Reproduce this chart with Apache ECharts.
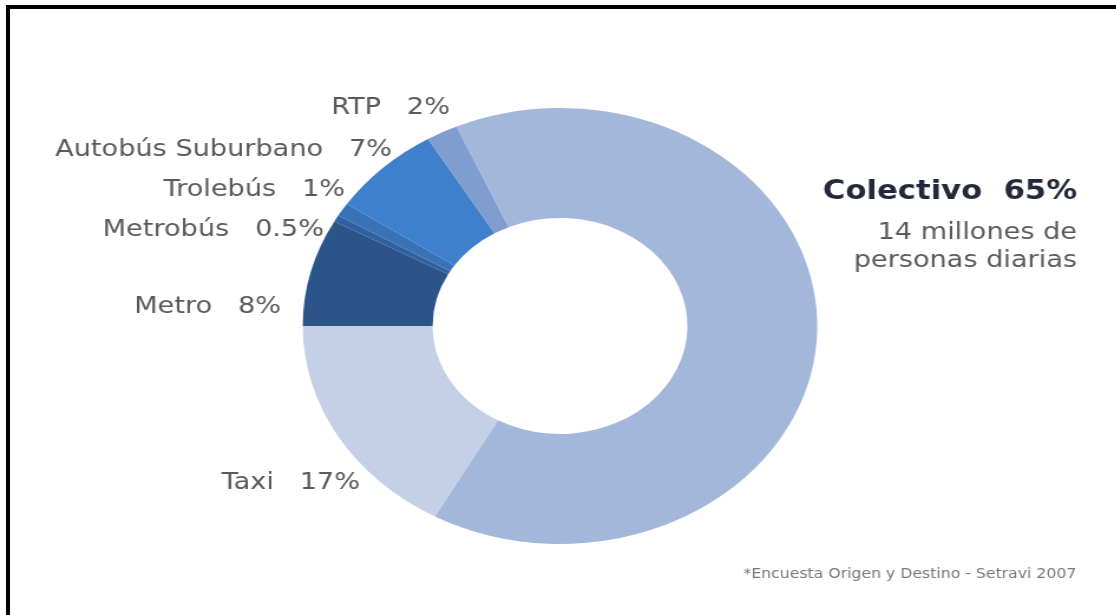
<!DOCTYPE html>
<html><head><meta charset="utf-8">
<script src="https://cdn.jsdelivr.net/npm/echarts@6/dist/echarts.min.js"></script>
<style>
html,body{margin:0;padding:0;background:#fff;overflow:hidden;}
#wrap{position:relative;width:1116px;height:615px;overflow:hidden;background:#fff;}
#chart{position:absolute;left:0;top:0;width:946px;height:615px;transform:scaleX(1.18);transform-origin:0 0;}
#frame{position:absolute;left:6px;top:5px;width:1130px;height:630px;border-top:4px solid #000;border-left:4px solid #000;}
</style></head><body>
<div id="wrap"><div id="chart"></div><div id="frame"></div></div>
<script>
// ---- data ----
const categories = ['Metro', 'Metrobús', 'Trolebús', 'Autobús Suburbano', 'RTP', 'Colectivo', 'Taxi'];
const shares = [8, 0.5, 1, 7, 2, 65, 17];
const colectivoNote = ['14 millones de', 'personas diarias'];
const sourceNote = '*Encuesta Origen y Destino - Setravi 2007';

// ---- style / layout ----
const sliceColors = ['#2b5488', '#30619e', '#3a72b8', '#3e80cc', '#7f9dcf', '#a3b7da', '#c3d0e6'];
const SX = 1.18; // horizontal stretch of the original picture
// right-edge x / centre y of each label, in page pixels
const labelAnchors = [[281, 307], [324, 230], [345, 190], [392, 150], [450, 108], [1077, 165], [360, 483]];

const chart = echarts.init(document.getElementById('chart'));
const data = categories.map((name, i) => {
  const item = { name, value: shares[i], itemStyle: { color: sliceColors[i] } };
  if (name === 'Colectivo') {
    item.label = {
      formatter: '{t|' + name + '  ' + shares[i] + '%}\n{s|' + colectivoNote[0] + '}\n{s|' + colectivoNote[1] + '}',
      rich: {
        t: { fontSize: 26, fontWeight: 'bold', color: '#25283a', fontFamily: 'DejaVu Sans', lineHeight: 54, align: 'right' },
        s: { fontSize: 23, color: '#5a5a5a', fontFamily: 'DejaVu Sans', lineHeight: 28, align: 'right' }
      }
    };
  }
  return item;
});

chart.setOption({
  animation: false,
  backgroundColor: '#fff',
  series: [{
    type: 'pie',
    center: [560 / SX, 326],
    radius: [108, 218],
    startAngle: 180,
    clockwise: true,
    avoidLabelOverlap: false,
    itemStyle: { borderWidth: 0 },
    data,
    label: {
      show: true,
      position: 'outside',
      formatter: (p) => p.name + '   ' + p.value + '%',
      fontFamily: 'DejaVu Sans',
      fontSize: 23,
      color: '#5a5a5a'
    },
    labelLine: { show: false },
    labelLayout: (p) => {
      const a = labelAnchors[p.dataIndex];
      const isTop = categories[p.dataIndex] === 'Colectivo';
      return { x: a[0] / SX, y: a[1], align: 'right', verticalAlign: isTop ? 'top' : 'middle' };
    },
    emphasis: { disabled: true }
  }],
  graphic: [{
    type: 'text',
    right: 1116 / SX - 1076 / SX,
    top: 568,
    style: { text: sourceNote, fontSize: 13.3, fill: '#777', fontFamily: 'DejaVu Sans' }
  }]
});
</script>
</body></html>
